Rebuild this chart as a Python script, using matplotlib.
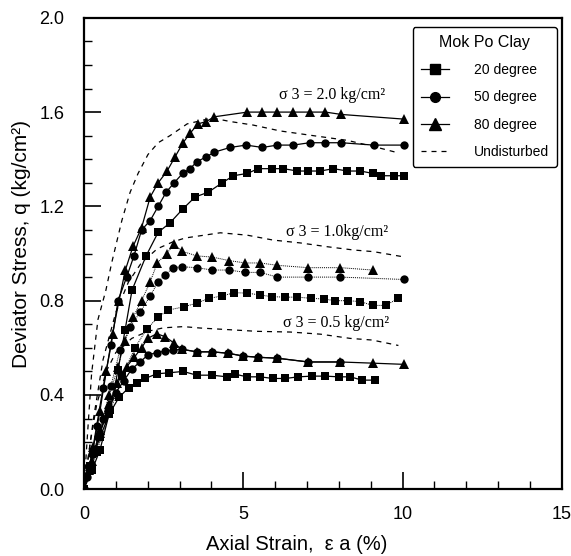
import matplotlib
matplotlib.use("Agg")
import matplotlib.pyplot as plt

plt.rcParams['font.family'] = ['Liberation Sans', 'DejaVu Sans']

# --- sigma3 = 2.0 kg/cm2 ---
x_20_s2 = [0, 0.25, 0.5, 0.82, 1.07, 1.29, 1.51, 1.95, 2.33, 2.70, 3.11, 3.49, 3.90, 4.34, 4.69,
           5.13, 5.47, 5.91, 6.26, 6.70, 7.04, 7.42, 7.83, 8.27, 8.68, 9.06, 9.31, 9.72, 10.06]
y_20_s2 = [0, 0.08, 0.165, 0.335, 0.505, 0.675, 0.845, 0.99, 1.09, 1.13, 1.19, 1.24, 1.26, 1.30, 1.33,
           1.34, 1.36, 1.36, 1.36, 1.35, 1.35, 1.35, 1.36, 1.35, 1.35, 1.34, 1.33, 1.33, 1.33]
x_50_s2 = [0, 0.1, 0.25, 0.4, 0.6, 0.85, 1.07, 1.34, 1.57, 1.81, 2.08, 2.33, 2.58, 2.83, 3.10, 3.33,
           3.55, 3.84, 4.09, 4.59, 5.09, 5.6, 6.07, 6.57, 7.08, 7.58, 8.08, 9.09, 10.06]
y_50_s2 = [0, 0.05, 0.15, 0.27, 0.43, 0.61, 0.80, 0.90, 0.99, 1.10, 1.14, 1.20, 1.26, 1.30, 1.34, 1.36,
           1.39, 1.41, 1.43, 1.45, 1.46, 1.45, 1.46, 1.46, 1.47, 1.47, 1.47, 1.46, 1.46]
x_80_s2 = [0, 0.15, 0.3, 0.5, 0.7, 0.9, 1.1, 1.3, 1.54, 1.81, 2.08, 2.33, 2.61, 2.86, 3.11, 3.33,
           3.58, 3.84, 4.09, 5.13, 5.6, 6.07, 6.57, 7.08, 7.58, 8.08, 10.06]
y_80_s2 = [0, 0.08, 0.18, 0.33, 0.50, 0.66, 0.80, 0.93, 1.03, 1.11, 1.24, 1.30, 1.35, 1.41, 1.47, 1.51,
           1.55, 1.56, 1.58, 1.60, 1.60, 1.60, 1.60, 1.60, 1.60, 1.59, 1.57]
x_und_s2 = [0, 0.12, 0.24, 0.44, 0.69, 0.87, 1.19, 1.45, 1.70, 2.01, 2.33, 2.70, 3.24, 4.03, 4.59,
            5.31, 6.16, 7.2, 8.27, 9.21, 9.78]
y_und_s2 = [0, 0.25, 0.49, 0.72, 0.845, 0.96, 1.14, 1.26, 1.34, 1.42, 1.47, 1.50, 1.55, 1.575, 1.56,
            1.545, 1.52, 1.50, 1.48, 1.45, 1.43]

# --- sigma3 = 1.0 kg/cm2 ---
x_20_s1 = [0, 0.4, 0.8, 1.2, 1.6, 1.97, 2.33, 2.64, 3.14, 3.54, 3.93, 4.33, 4.72, 5.13, 5.53, 5.91,
           6.32, 6.70, 7.14, 7.52, 7.89, 8.30, 8.68, 9.06, 9.47, 9.87]
y_20_s1 = [0, 0.16, 0.32, 0.48, 0.60, 0.68, 0.73, 0.76, 0.774, 0.79, 0.81, 0.82, 0.834, 0.832, 0.824,
           0.817, 0.815, 0.815, 0.81, 0.807, 0.80, 0.80, 0.796, 0.78, 0.78, 0.81]
x_50_s1 = [0, 0.3, 0.6, 0.85, 1.13, 1.45, 1.76, 2.08, 2.33, 2.55, 2.80, 3.07, 3.54, 4.03, 4.56, 5.06,
           5.53, 6.07, 7.04, 8.05, 10.03]
y_50_s1 = [0, 0.15, 0.30, 0.44, 0.59, 0.69, 0.75, 0.82, 0.88, 0.91, 0.94, 0.944, 0.94, 0.93, 0.93, 0.92,
           0.92, 0.90, 0.90, 0.90, 0.89]
x_80_s1 = [0, 0.25, 0.5, 0.8, 1.07, 1.3, 1.54, 1.81, 2.08, 2.30, 2.60, 2.83, 3.07, 3.54, 4.03, 4.56,
           5.06, 5.53, 6.07, 7.04, 8.05, 9.06]
y_80_s1 = [0, 0.12, 0.25, 0.40, 0.52, 0.63, 0.73, 0.80, 0.88, 0.96, 1.00, 1.04, 1.01, 0.99, 0.985, 0.97,
           0.96, 0.96, 0.95, 0.94, 0.94, 0.93]
x_und_s1 = [0, 0.3, 0.6, 1.0, 1.4, 1.8, 2.3, 2.8, 3.18, 4.28, 5.12, 5.94, 6.79, 7.63, 8.46, 9.09, 10.03]
y_und_s1 = [0, 0.30, 0.55, 0.75, 0.88, 0.96, 1.02, 1.05, 1.066, 1.088, 1.078, 1.057, 1.045, 1.029,
            1.015, 1.008, 0.986]

# --- sigma3 = 0.5 kg/cm2 ---
x_20_s05 = [0, 0.2, 0.5, 0.8, 1.1, 1.4, 1.65, 1.92, 2.29, 2.67, 3.11, 3.54, 4.02, 4.49, 4.75, 5.12,
            5.53, 5.93, 6.32, 6.73, 7.16, 7.58, 7.99, 8.36, 8.73, 9.15]
y_20_s05 = [0, 0.10, 0.22, 0.32, 0.39, 0.43, 0.45, 0.47, 0.49, 0.494, 0.50, 0.484, 0.484, 0.477, 0.488,
            0.477, 0.477, 0.47, 0.47, 0.477, 0.48, 0.48, 0.477, 0.477, 0.463, 0.463]
x_50_s05 = [0, 0.2, 0.45, 0.75, 1.0, 1.25, 1.5, 1.76, 2.01, 2.29, 2.55, 2.80, 3.07, 3.54, 4.02, 4.53,
            5.0, 5.47, 6.07, 7.04, 8.05]
y_50_s05 = [0, 0.10, 0.22, 0.33, 0.41, 0.46, 0.51, 0.54, 0.57, 0.58, 0.586, 0.59, 0.594, 0.583, 0.583,
            0.577, 0.565, 0.56, 0.556, 0.54, 0.54]
x_80_s05 = [0, 0.2, 0.5, 0.8, 1.05, 1.34, 1.58, 1.81, 2.0, 2.29, 2.55, 2.83, 3.07, 3.54, 4.02, 4.53,
            5.0, 5.47, 6.07, 7.04, 8.05, 9.06, 10.03]
y_80_s05 = [0, 0.10, 0.24, 0.36, 0.45, 0.52, 0.56, 0.60, 0.64, 0.66, 0.647, 0.62, 0.594, 0.583, 0.583,
            0.577, 0.565, 0.56, 0.556, 0.54, 0.54, 0.535, 0.53]
x_und_s05 = [0, 0.2, 0.4, 0.7, 1.0, 1.5, 2.0, 2.5, 3.12, 3.65, 4.17, 4.80, 5.43, 6.48, 7.42, 8.36,
             9.05, 9.87]
y_und_s05 = [0, 0.20, 0.36, 0.50, 0.58, 0.64, 0.67, 0.685, 0.69, 0.684, 0.68, 0.675, 0.67, 0.667,
             0.658, 0.64, 0.633, 0.61]

labels = ['20 degree', '50 degree', '80 degree', 'Undisturbed']
sigma_text = ['σ 3 = 2.0 kg/cm²', 'σ 3 = 1.0kg/cm²', 'σ 3 = 0.5 kg/cm²']
sigma_pos = [(7.8, 1.673), (7.94, 1.09), (7.92, 0.705)]


def main():
    fig = plt.figure(figsize=(5.71, 5.56), dpi=100)
    ax = fig.add_axes([0.147, 0.120, 0.837, 0.848])

    mk = dict(color='black', lw=0.9, markeredgewidth=0)
    und = dict(color='black', lw=0.9, dashes=(4, 4))

    # sigma3 = 2.0
    ax.plot(x_20_s2, y_20_s2, marker='s', ms=6, **mk)
    ax.plot(x_50_s2, y_50_s2, marker='o', ms=6, **mk)
    ax.plot(x_80_s2, y_80_s2, marker='^', ms=7, **mk)
    ax.plot(x_und_s2, y_und_s2, **und)

    # sigma3 = 1.0 (thin dotted connectors)
    dot = dict(color='black', lw=0.7, ls=(0, (1, 1)), markeredgewidth=0)
    ax.plot(x_20_s1, y_20_s1, marker='s', ms=6, **dot)
    ax.plot(x_50_s1, y_50_s1, marker='o', ms=6, **dot)
    ax.plot(x_80_s1, y_80_s1, marker='^', ms=7, **dot)
    ax.plot(x_und_s1, y_und_s1, **und)

    # sigma3 = 0.5
    ax.plot(x_20_s05, y_20_s05, marker='s', ms=6, **mk)
    ax.plot(x_50_s05, y_50_s05, marker='o', ms=6, **mk)
    ax.plot(x_80_s05, y_80_s05, marker='^', ms=7, **mk)
    ax.plot(x_und_s05, y_und_s05, **und)

    for txt, (tx, ty) in zip(sigma_text, sigma_pos):
        ax.text(tx, ty, txt, ha='center', va='center', fontsize=11.5,
                family=['Liberation Serif', 'DejaVu Serif'])

    # legend proxies
    h1, = ax.plot([], [], marker='s', ms=7, color='black', lw=0.9)
    h2, = ax.plot([], [], marker='o', ms=7, color='black', lw=0.9)
    h3, = ax.plot([], [], marker='^', ms=8, color='black', lw=0.9)
    h4, = ax.plot([], [], color='black', lw=0.9, dashes=(4, 4))
    leg = ax.legend([h1, h2, h3, h4], labels, title='Mok Po Clay', loc='upper right',
                    bbox_to_anchor=(0.99, 0.981), fontsize=10, title_fontsize=11.5,
                    fancybox=True, framealpha=1, edgecolor='black', handlelength=2.0,
                    labelspacing=0.95, borderpad=0.6, handletextpad=1.8, borderaxespad=0)
    leg.get_frame().set_linewidth(1.0)

    ax.set_xlim(0, 15)
    ax.set_ylim(0, 2.0)
    ax.set_xticks([0, 5, 10, 15])
    ax.set_xticks(range(0, 16), minor=True)
    ax.set_yticks([0.0, 0.4, 0.8, 1.2, 1.6, 2.0])
    ax.set_yticklabels(['0.0', '0.4', '0.8', '1.2', '1.6', '2.0'])
    ax.set_yticks([i / 10 for i in range(21)], minor=True)
    ax.tick_params(which='major', direction='in', length=12, width=1.2, labelsize=13)
    ax.tick_params(axis='x', which='major', pad=12)
    ax.tick_params(axis='y', which='major', pad=14)
    ax.tick_params(which='minor', direction='in', length=6, width=1.0)
    for sp in ax.spines.values():
        sp.set_linewidth(1.6)

    ax.set_xlabel('Axial Strain,  ε a (%)', fontsize=14.5)
    ax.xaxis.set_label_coords(0.445, -0.098)
    ax.set_ylabel('Deviator Stress, q (kg/cm²)', fontsize=15)
    ax.yaxis.set_label_coords(-0.11, 0.52)

    fig.savefig('out.png', dpi=100)


if __name__ == "__main__":
    main()
